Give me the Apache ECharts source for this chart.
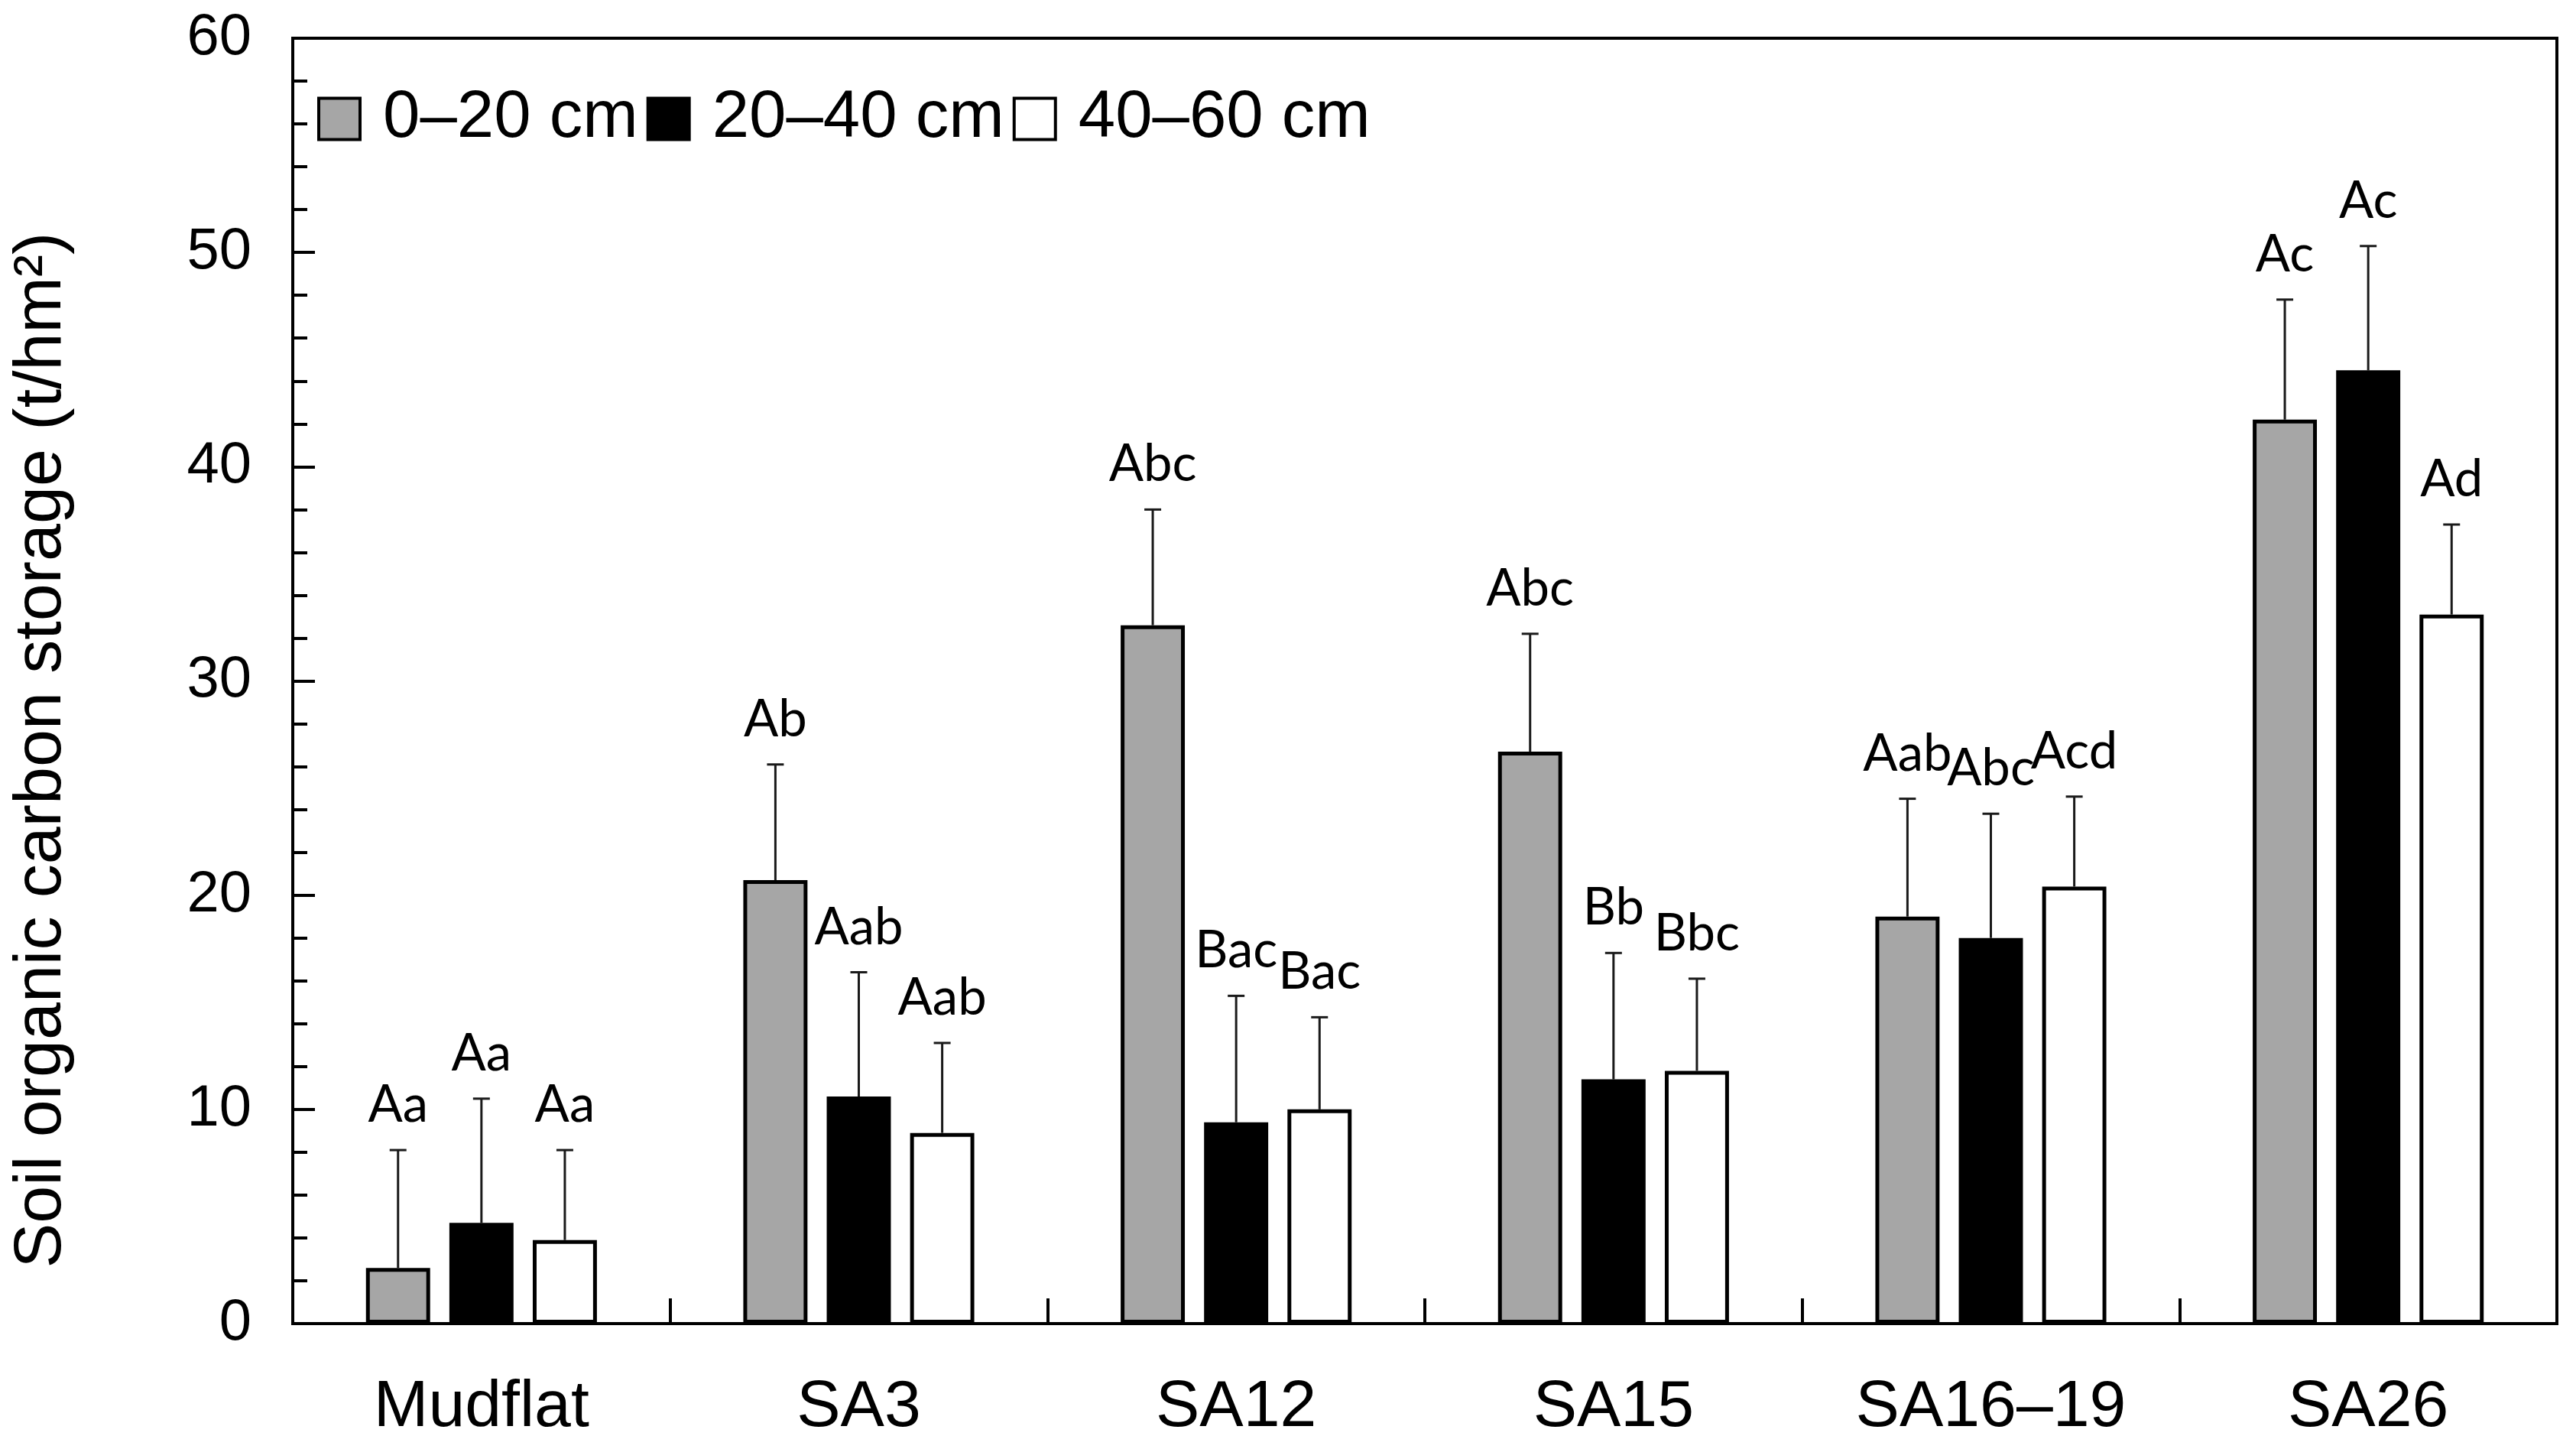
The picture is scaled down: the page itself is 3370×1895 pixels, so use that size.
<!DOCTYPE html>
<html><head><meta charset="utf-8">
<script src="https://cdn.jsdelivr.net/npm/echarts@6/dist/echarts.min.js"></script>
<style>html,body{margin:0;padding:0;background:#fff}#c{width:3370px;height:1895px}</style>
</head><body><div id="c"></div>
<script>
// ---- data ----
const categories = ['Mudflat', 'SA3', 'SA12', 'SA15', 'SA16–19', 'SA26'];
const depthNames = ['0–20 cm', '20–40 cm', '40–60 cm'];
const soc0_20  = [2.6, 20.7, 32.6, 26.7, 19.0, 42.2];
const soc20_40 = [4.7, 10.6, 9.4, 11.4, 18.0, 44.5];
const soc40_60 = [3.9, 8.9, 10.0, 11.8, 20.4, 33.1];
const sd0_20  = [5.5, 5.4, 5.4, 5.5, 5.5, 5.6];
const sd20_40 = [5.8, 5.8, 5.9, 5.9, 5.8, 5.8];
const sd40_60 = [4.2, 4.2, 4.3, 4.3, 4.2, 4.2];
const sig0_20  = ['Aa', 'Ab', 'Abc', 'Abc', 'Aab', 'Ac'];
const sig20_40 = ['Aa', 'Aab', 'Bac', 'Bb', 'Abc', 'Ac'];
const sig40_60 = ['Aa', 'Aab', 'Bac', 'Bbc', 'Acd', 'Ad'];
const yTicks = [0, 10, 20, 30, 40, 50, 60];
const yTitle = 'Soil organic carbon storage (t/hm²)';

// ---- style ----
const FONT = '"Liberation Sans", Arial, sans-serif';
const LFONT = 'Lato, "Open Sans", sans-serif';
const BAR_FRAC = 0.17, BAR_GAP = 0.30, LABEL_GAP = 25;
const fills = ['#a6a6a6', '#000000', '#ffffff'];

const values = [soc0_20, soc20_40, soc40_60];
const sds = [sd0_20, sd20_40, sd40_60];
const sigs = [sig0_20, sig20_40, sig40_60];

function makeErr(idx, sig) {
  return function (params, api) {
    const c = api.value(0), v = api.value(1), e = api.value(2);
    const band = api.size([1, 0])[0];
    const bw = band * BAR_FRAC;
    const off = (idx - 1) * bw * (1 + BAR_GAP);
    const p0 = api.coord([c, v]);
    const p1 = api.coord([c, v + e]);
    const x = p0[0] + off;
    return {
      type: 'group',
      children: [
        { type: 'line', shape: { x1: x, y1: p0[1], x2: x, y2: p1[1] }, style: { stroke: '#1a1a1a', lineWidth: 3 } },
        { type: 'line', shape: { x1: x - 11, y1: p1[1], x2: x + 11, y2: p1[1] }, style: { stroke: '#1a1a1a', lineWidth: 3 } },
        { type: 'text', x: x, y: p1[1] - LABEL_GAP,
          style: { text: sig[params.dataIndex], font: '67px ' + LFONT, fill: '#000',
                   textAlign: 'center', textVerticalAlign: 'bottom', align: 'center', verticalAlign: 'bottom' } }
      ]
    };
  };
}

const series = [];
for (let i = 0; i < 3; i++) {
  series.push({
    name: depthNames[i], type: 'bar', data: values[i],
    barWidth: (BAR_FRAC * 100) + '%', barGap: (BAR_GAP * 100) + '%',
    itemStyle: { color: fills[i], borderColor: '#000', borderWidth: 5 },
    z: 2
  });
}
for (let i = 0; i < 3; i++) {
  series.push({
    name: 'err' + i, type: 'custom',
    data: categories.map((c, k) => [k, values[i][k], sds[i][k]]),
    encode: { x: 0, y: [1, 2] },
    renderItem: makeErr(i, sigs[i]),
    z: 5, silent: true
  });
}

const chart = echarts.init(document.getElementById('c'), null, { renderer: 'canvas' });
chart.setOption({
  animation: false,
  backgroundColor: '#fff',
  grid: { left: 383, right: 25, top: 50, bottom: 164, show: true, borderColor: '#000', borderWidth: 4, backgroundColor: 'transparent' },
  legend: {
    data: depthNames, left: 415, top: 112, orient: 'horizontal',
    itemWidth: 54, itemHeight: 54, itemGap: 11, padding: 0, icon: 'rect',
    itemStyle: { borderColor: '#000', borderWidth: 4 },
    textStyle: { fontSize: 87, fontFamily: FONT, color: '#000', padding: [0, 0, 0, 25] }
  },
  xAxis: {
    type: 'category', data: categories,
    axisLine: { show: true, lineStyle: { color: '#000', width: 4 } },
    axisTick: { show: true, inside: true, length: 33, lineStyle: { color: '#000', width: 4 } },
    axisLabel: { fontSize: 86, fontFamily: FONT, color: '#000', margin: 67 },
    splitLine: { show: false }
  },
  yAxis: {
    type: 'value', min: yTicks[0], max: yTicks[yTicks.length - 1], interval: yTicks[1] - yTicks[0],
    axisLine: { show: true, lineStyle: { color: '#000', width: 4 } },
    axisTick: { show: true, inside: true, length: 29, lineStyle: { color: '#000', width: 4 } },
    minorTick: { show: true, splitNumber: 5, length: 19, lineStyle: { color: '#000', width: 4 } },
    axisLabel: { fontSize: 76, fontFamily: FONT, color: '#000', margin: 54 },
    splitLine: { show: false }
  },
  graphic: [{
    type: 'text', x: 55, y: 981, rotation: Math.PI / 2,
    style: { text: yTitle, font: '88px ' + FONT, fill: '#000',
             textAlign: 'center', textVerticalAlign: 'middle', align: 'center', verticalAlign: 'middle' }
  }],
  series: series
});
</script>
</body></html>
